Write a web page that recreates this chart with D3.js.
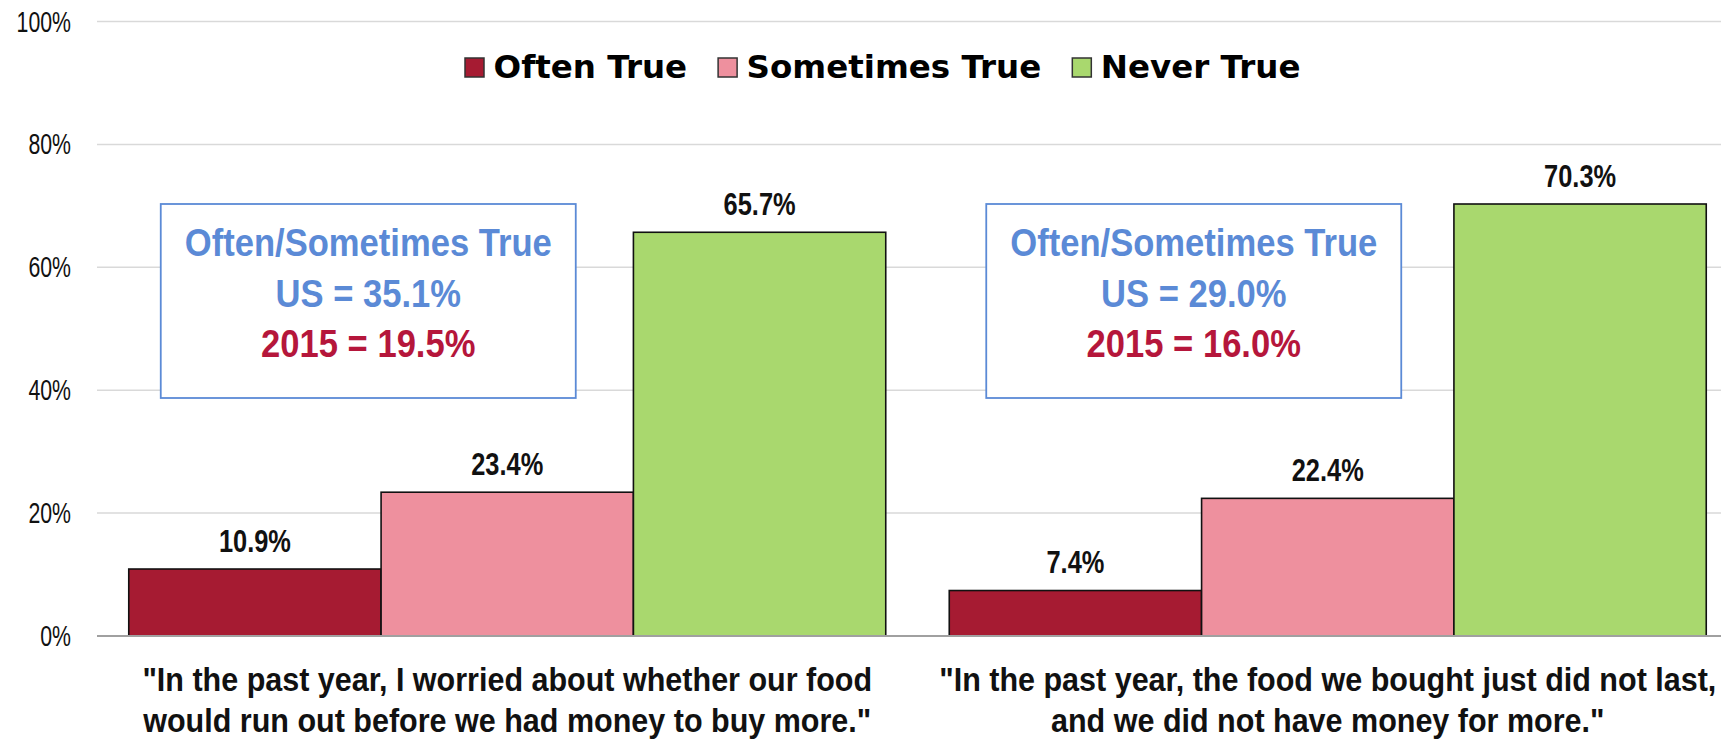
<!DOCTYPE html>
<html>
<head>
<meta charset="utf-8">
<script src="https://cdn.jsdelivr.net/npm/d3@7"></script>
<style>
  html, body { margin: 0; padding: 0; background: #ffffff; }
  svg { display: block; }
</style>
</head>
<body>
<svg id="chart" width="1721" height="744"></svg>
<script>
// ---------------- DATA ----------------
const categories = [
  ["\"In the past year, I worried about whether our food", "would run out before we had money to buy more.\""],
  ["\"In the past year, the food we bought just did not last,", "and we did not have money for more.\""]
];
const seriesNames = ["Often True", "Sometimes True", "Never True"];
const oftenTrue = [10.9, 7.4];
const sometimesTrue = [23.4, 22.4];
const neverTrue = [65.7, 70.3];
const boxTitle = ["Often/Sometimes True", "Often/Sometimes True"];
const boxUS = ["US = 35.1%", "US = 29.0%"];
const box2015 = ["2015 = 19.5%", "2015 = 16.0%"];
const yTicks = [0, 20, 40, 60, 80, 100];

// ---------------- STYLE ----------------
const colors = ["#a61b32", "#ee909e", "#a9d86e"];
const W = 1721, H = 744;
const plotLeft = 97, plotRight = 1738, plotTop = 21.5, plotBottom = 636;

const svg = d3.select("#chart");
const catIdx = categories.map((d, i) => i);
const seriesVals = [oftenTrue, sometimesTrue, neverTrue];

const y = d3.scaleLinear().domain([0, 100]).range([plotBottom, plotTop]);
const x0 = d3.scaleBand().domain(catIdx).range([plotLeft, plotRight])
  .paddingInner(0.0774).paddingOuter(0.0387);
const x1 = d3.scaleBand().domain(d3.range(seriesNames.length)).range([0, x0.bandwidth()]);

function stext(g, x, yy, str, sx, opts) {
  const t = g.append("text")
    .attr("transform", `translate(${x},${yy}) scale(${sx},1)`)
    .text(str);
  Object.entries(opts || {}).forEach(([k, v]) => t.attr(k, v));
  return t;
}

// gridlines
svg.append("g").selectAll("line").data(yTicks.filter(d => d > 0)).join("line")
  .attr("x1", plotLeft).attr("x2", W)
  .attr("y1", d => y(d)).attr("y2", d => y(d))
  .attr("stroke", "#d9d9d9").attr("stroke-width", 1.5);

// y axis labels
const yg = svg.append("g");
yTicks.forEach(t => {
  stext(yg, 71, y(t) + 10, t + "%", 0.71, {
    "text-anchor": "end", "font-family": "Liberation Sans, Arial, sans-serif",
    "font-size": 30, "fill": "#111"
  });
});

// bars
const groups = svg.append("g").selectAll("g").data(catIdx).join("g")
  .attr("transform", d => `translate(${x0(d)},0)`);
groups.selectAll("rect").data(ci => seriesVals.map((arr, si) => ({ si, v: arr[ci] }))).join("rect")
  .attr("x", d => x1(d.si))
  .attr("y", d => y(d.v))
  .attr("width", x1.bandwidth())
  .attr("height", d => y(0) - y(d.v))
  .attr("fill", d => colors[d.si])
  .attr("stroke", "#111").attr("stroke-width", 1.6);

// zero axis line
svg.append("line").attr("x1", plotLeft).attr("x2", W)
  .attr("y1", y(0)).attr("y2", y(0))
  .attr("stroke", "#a0a0a0").attr("stroke-width", 2);

// data labels
groups.each(function (ci) {
  const g = d3.select(this);
  seriesVals.forEach((arr, si) => {
    stext(g, x1(si) + x1.bandwidth() / 2, y(arr[ci]) - 17.5, arr[ci].toFixed(1) + "%", 0.82, {
      "text-anchor": "middle", "font-family": "Liberation Sans, Arial, sans-serif",
      "font-weight": "bold", "font-size": 31, "fill": "#111"
    });
  });
});

// annotation boxes
const boxLeftOff = [32, 37], boxW = 415, boxTop = 204, boxH = 194;
groups.each(function (ci) {
  const g = d3.select(this);
  const bx = boxLeftOff[ci];
  g.append("rect").attr("x", bx).attr("y", boxTop).attr("width", boxW).attr("height", boxH)
    .attr("fill", "#fff").attr("stroke", "#5b8ad6").attr("stroke-width", 1.8);
  const cx = bx + boxW / 2;
  const lines = [[boxTitle[ci], "#5b8ad6"], [boxUS[ci], "#5b8ad6"], [box2015[ci], "#b5163b"]];
  lines.forEach((ln, k) => {
    stext(g, cx, boxTop + 52 + k * 50.5, ln[0], 0.91, {
      "text-anchor": "middle", "font-family": "Liberation Sans, Arial, sans-serif",
      "font-weight": "bold", "font-size": 38, "fill": ln[1]
    });
  });
});

// category labels
groups.each(function (ci) {
  const g = d3.select(this);
  categories[ci].forEach((ln, k) => {
    stext(g, x0.bandwidth() / 2, 691 + k * 40.5, ln, 0.925, {
      "text-anchor": "middle", "font-family": "Liberation Sans, Arial, sans-serif",
      "font-weight": "bold", "font-size": 33, "fill": "#111"
    });
  });
});

// legend
const leg = svg.append("g");
let lx = 465;
seriesNames.forEach((name, si) => {
  leg.append("rect").attr("x", lx).attr("y", 58).attr("width", 19).attr("height", 19)
    .attr("fill", colors[si]).attr("stroke", "#333").attr("stroke-width", 1.5);
  const t = leg.append("text").attr("x", lx + 28.5).attr("y", 78)
    .attr("font-family", "DejaVu Sans, sans-serif").attr("font-weight", "bold")
    .attr("font-size", 32.5).attr("fill", "#000").text(name);
  lx += 28.5 + t.node().getComputedTextLength() + 31;
});
</script>
</body>
</html>
